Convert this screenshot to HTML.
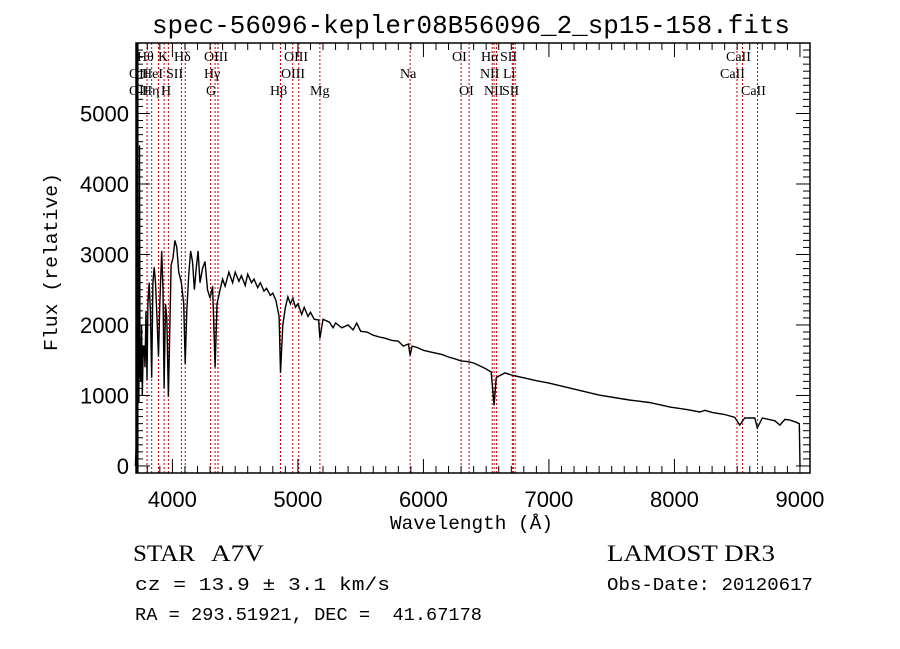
<!DOCTYPE html>
<html><head><meta charset="utf-8"><style>
html,body{margin:0;padding:0;background:#fff;}
svg{display:block;}
svg text{white-space:pre;}
</style></head><body>
<svg id="chart" width="900" height="649" viewBox="0 0 900 649" xmlns="http://www.w3.org/2000/svg"></svg>
<script>
const wavelengths=[3705,3712,3718,3722,3728,3733,3738,3742,3748,3755,3760,3768,3775,3782,3790,3798,3805,3815,3825,3835,3845,3855,3865,3875,3889,3900,3915,3925,3934,3945,3955,3968,3978,3990,4005,4020,4035,4050,4072,4090,4102,4115,4130,4145,4160,4175,4190,4205,4220,4240,4260,4280,4300,4320,4340,4355,4380,4400,4420,4450,4480,4500,4530,4550,4580,4600,4630,4650,4680,4700,4730,4750,4780,4800,4825,4850,4861,4880,4900,4920,4940,4960,4980,5000,5030,5050,5080,5100,5130,5165,5175,5200,5250,5280,5300,5350,5400,5440,5468,5500,5550,5600,5650,5700,5750,5800,5840,5880,5894,5910,5950,6000,6050,6100,6150,6200,6250,6300,6350,6400,6450,6500,6540,6563,6580,6600,6650,6700,6750,6800,6900,7000,7200,7400,7640,7800,7965,8100,8203,8243,8300,8400,8480,8520,8560,8640,8660,8700,8800,8840,8880,8920,8970,8995,9000];
const fluxes=[0,300,1200,600,1500,900,4550,1300,1200,2000,1000,1700,1700,1400,2200,1220,2300,2600,2200,1250,2600,2820,2600,2200,1550,2300,3050,2500,1100,2300,2100,980,1800,2850,2950,3200,3100,2750,2600,2300,1450,2200,2700,3050,2900,2500,2800,3050,2600,2800,2900,2500,2380,2550,1400,2300,2500,2650,2550,2750,2600,2750,2620,2700,2560,2720,2600,2650,2530,2600,2480,2520,2420,2450,2350,2120,1320,2000,2250,2400,2300,2380,2250,2300,2150,2250,2120,2180,2080,2070,1810,2080,2040,1960,2030,1960,2000,1930,2025,1910,1900,1855,1830,1810,1780,1770,1700,1730,1570,1700,1680,1640,1620,1600,1580,1545,1520,1490,1480,1460,1420,1375,1330,860,1250,1275,1320,1290,1270,1250,1210,1175,1090,1005,935,900,835,800,765,790,760,730,690,580,680,680,540,680,640,580,660,650,620,600,0];
const lineWaves=[3727,3798,3835,3889,3934,3968,4072,4102,4304,4340,4363,4861,4959,5007,5175,5894,6300,6364,6548,6563,6583,6708,6716,6731,8498,8542,8662];
const lineLabels=[["Hθ",137,61],["K",158,61],["Hδ",174,61],["OIII",204,61],["OIII",284,61],["OII",129,78],["HeI",142,78],["SII",166,78],["Hγ",204,78],["OIII",281,78],["Na",400,78],["OII",129,95],["Hη",142,95],["H",161,95],["G",206,95],["Hβ",270,95],["Mg",310,95],["OI",452,61],["Hα",481,61],["SII",500,61],["NII",480,78],["Li",503,78],["OI",459,95],["NII",484,95],["SII",502,95],["CaII",726,61],["CaII",720,78],["CaII",741,95]];
const xTicks=[4000,5000,6000,7000,8000,9000];
const yTicks=[0,1000,2000,3000,4000,5000];

const svg=document.getElementById('chart');
const NS='http://www.w3.org/2000/svg';
const L=136,R=810,T=43,B=473;
const XMIN=3710,XMAX=9080,YMIN=-100,YMAX=6000;
function xs(w){return L+(w-XMIN)/(XMAX-XMIN)*(R-L);}
function ys(f){return B-(f-YMIN)/(YMAX-YMIN)*(B-T);}
function mk(tag,attrs,parent){const e=document.createElementNS(NS,tag);for(const k in attrs)e.setAttribute(k,attrs[k]);(parent||svg).appendChild(e);return e;}

const lg=mk('g',{});


lineWaves.forEach(w=>{const l=mk('line',{x1:xs(w),x2:xs(w),y1:T,y2:B,stroke:'#c00000','stroke-width':1,'stroke-dasharray':'2,2'},lg);

});
lineLabels.forEach(a=>{const t=mk('text',{x:a[1],y:a[2],'font-family':'Liberation Serif, serif','font-size':14},lg);t.textContent=a[0];

});

const pts=wavelengths.map((w,i)=>xs(w).toFixed(1)+','+ys(fluxes[i]).toFixed(1)).join(' ');
const sp=mk('polyline',{points:pts,fill:'none',stroke:'#000','stroke-width':1.4});



const fr=mk('rect',{x:L,y:T,width:R-L,height:B-T,fill:'none',stroke:'#000','stroke-width':1.5});


mk('line',{x1:L+1,x2:L+1,y1:T,y2:B,stroke:'#000','stroke-width':3});

for(let w=3800;w<=9000;w+=100){const maj=w%1000===0;const len=maj?14:7;
mk('line',{x1:xs(w),x2:xs(w),y1:B,y2:B-len,stroke:'#000'});
mk('line',{x1:xs(w),x2:xs(w),y1:T,y2:T+len,stroke:'#000'});}
xTicks.forEach(w=>{const t=mk('text',{x:xs(w),y:B+34,'text-anchor':'middle','font-family':'Liberation Sans, sans-serif','font-size':22});t.textContent=w;

});
for(let f=0;f<=5900;f+=100){const maj=f%1000===0;const len=maj?14:7;
mk('line',{x1:L,x2:L+len,y1:ys(f),y2:ys(f),stroke:'#000'});
mk('line',{x1:R,x2:R-len,y1:ys(f),y2:ys(f),stroke:'#000'});}
yTicks.forEach(f=>{const t=mk('text',{x:L-7,y:ys(f)+8,'text-anchor':'end','font-family':'Liberation Sans, sans-serif','font-size':22});t.textContent=f;

});

function txt(s,x,y,size,fam,len,name,extra){const t=mk('text',Object.assign({x:x,y:y,'font-family':fam,'font-size':size},len?{textLength:len,lengthAdjust:'spacingAndGlyphs'}:{} ,extra||{}));t.textContent=s;

return t;}
const mono='Liberation Mono, monospace',serif='Liberation Serif, serif';
txt('spec-56096-kepler08B56096_2_sp15-158.fits',152,33,26,mono,638,'chart-title');
txt('Wavelength (Å)',390,529,19,mono,163,'x-axis-title');
txt('Flux (relative)',0,0,19,mono,178,'y-axis-title',{transform:'translate(57,351) rotate(-90)'});
txt('STAR',133,561,23,serif,62,'object-class');
txt('A7V',211,561,23,serif,53,'spectral-type');
txt('LAMOST DR3',607,561,23,serif,168,'survey-label');
txt('cz = 13.9 ± 3.1 km/s',135,590,18,mono,255,'redshift-info');
txt('Obs-Date: 20120617',607,590,18,mono,206,'obs-date');
txt('RA = 293.51921, DEC =  41.67178',135,620,18,mono,347,'coordinates');
</script>
</body></html>
